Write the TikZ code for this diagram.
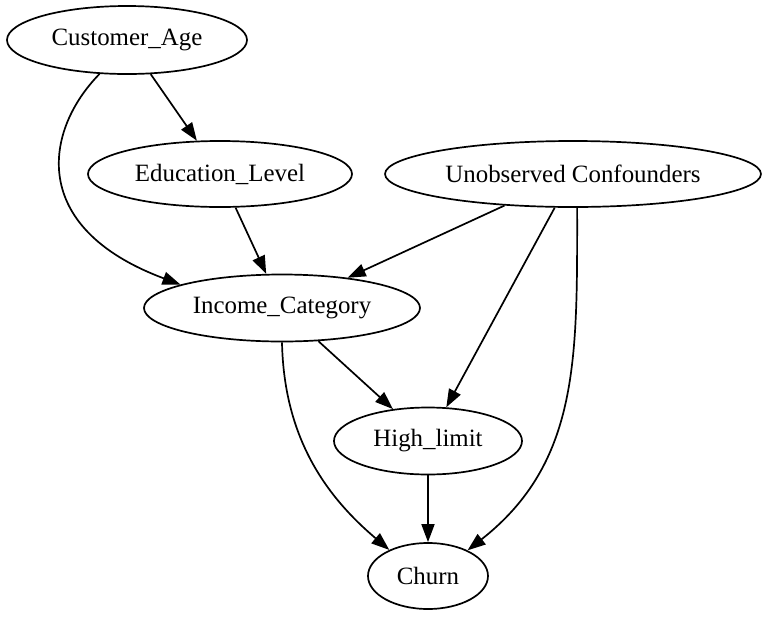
\documentclass[tikz,border=0pt]{standalone}
\usepackage{fontspec}
\setmainfont{Liberation Serif}
\usetikzlibrary{arrows.meta,shapes.geometric}

\begin{document}
\begin{tikzpicture}[x=0.5pt,y=-0.5pt,
    var/.style={ellipse,draw,line width=0.85pt,inner sep=0pt,font=\fontsize{12.45}{15}\selectfont},
    edge/.style={line width=0.85pt,-{Triangle[length=9pt,width=6.5pt]}}]
    \useasboundingbox (0,0) rectangle (768,617);
    % top row
    \node[var,minimum width=120pt,minimum height=34pt] (age) at (127,40) {Customer\_Age};
    % second row
    \node[var,minimum width=132pt,minimum height=33pt] (edu) at (220,174) {Education\_Level};
    \node[var,minimum width=188pt,minimum height=33pt] (conf) at (573,174) {Unobserved Confounders};
    % middle
    \node[var,minimum width=138pt,minimum height=33.5pt] (inc) at (282,308) {Income\_Category};
    \node[var,minimum width=94pt,minimum height=33.5pt] (lim) at (428,441) {High\_limit};
    % outcome
    \node[var,minimum width=60pt,minimum height=33pt] (churn) at (428,576) {Churn};
    % straight edges
    \draw[edge] (age) -- (edu);
    \draw[edge] (edu) -- (inc);
    \draw[edge] (conf) -- (inc);
    \draw[edge] (conf) -- (lim);
    \draw[edge] (inc) -- (lim);
    \draw[edge] (lim) -- (churn);
    % curved edges
    \draw[edge] (age.231) .. controls +(-55,56) and +(-153,-57) .. (inc.167);
    \draw[edge] (inc.270) .. controls +(2,99) and +(-60,-51) .. (churn.146);
    \draw[edge] (conf.277) .. controls +(0,150) and +(112,-88) .. (churn.33);
\end{tikzpicture}
\end{document}
